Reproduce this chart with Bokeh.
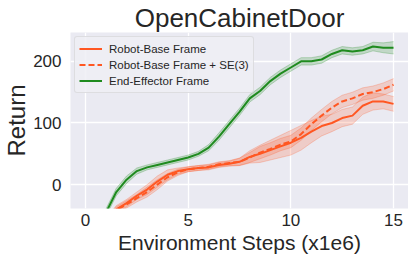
from bokeh.plotting import figure
from bokeh.embed import file_html
from bokeh.resources import INLINE
from bokeh.models import Range1d, FixedTicker, Legend, LegendItem

steps = [1.0, 1.5, 2.0, 2.5, 3.0, 3.5, 4.0, 4.5, 5.0, 5.5, 6.0, 6.5, 7.0, 7.5, 8.0,
         8.5, 9.0, 9.5, 10.0, 10.5, 11.0, 11.5, 12.0, 12.5, 13.0, 13.5, 14.0, 14.5, 15.0]

base = [-60, -40, -30, -18, -8, 5, 16, 22, 25, 27, 28, 32, 34, 37, 45,
        50, 56, 62, 68, 76, 86, 95, 100, 108, 112, 128, 135, 135, 131]
base_sd = [6, 6, 6, 6, 8, 9, 8, 5, 4, 4, 4, 4, 4, 6, 10,
           14, 16, 18, 20, 20, 18, 16, 14, 14, 14, 14, 14, 12, 12]

se3 = [-60, -42, -32, -22, -12, 0, 12, 20, 25, 27, 29, 33, 35, 37, 44,
       52, 58, 65, 70, 82, 98, 112, 125, 135, 140, 147, 150, 155, 162]
se3_sd = [6, 6, 6, 6, 8, 8, 6, 5, 4, 4, 4, 4, 4, 6, 8,
          10, 10, 10, 10, 10, 10, 10, 10, 10, 10, 10, 10, 10, 10]

ee = [-45, -12, 8, 22, 28, 32, 36, 40, 44, 50, 60, 78, 98, 118, 140,
      152, 168, 180, 190, 200, 200, 203, 212, 218, 216, 218, 224, 222, 222]
ee_sd = [6, 6, 6, 5, 4, 4, 4, 4, 4, 4, 5, 6, 6, 6, 6,
         6, 6, 6, 6, 6, 6, 6, 6, 6, 6, 6, 7, 8, 10]

x_ticks = [0, 5, 10, 15]
y_ticks = [0, 100, 200]

ORANGE = "#ff5722"
GREEN = "#1f8b1f"
BG = "#eaeaf2"

p = figure(frame_width=338, frame_height=176, output_backend="svg", toolbar_location=None,
           x_range=Range1d(-0.73, 15.73), y_range=Range1d(-38.7, 246.8),
           title="OpenCabinetDoor")
p.min_border_left = 0
p.min_border_right = 0
p.min_border_top = 0
p.min_border_bottom = 0
p.background_fill_color = BG
p.border_fill_color = "white"
p.outline_line_color = None

p.title.align = "center"
p.title.text_font = "Liberation Sans"
p.title.text_font_size = "26px"
p.title.text_font_style = "normal"
p.title.text_color = "#262626"
p.title.standoff = 0

for ax in (p.xaxis, p.yaxis):
    ax.axis_line_color = None
    ax.major_tick_line_color = None
    ax.minor_tick_line_color = None
    ax.major_tick_out = 0
    ax.major_tick_in = 0
    ax.minor_tick_out = 0
    ax.minor_tick_in = 0
    ax.major_label_text_font = "Liberation Sans"
    ax.major_label_text_font_size = "17px"
    ax.major_label_text_color = "#262626"
    ax.axis_label_text_font = "Liberation Sans"
    ax.axis_label_text_font_style = "normal"
    ax.axis_label_text_color = "#262626"

p.xaxis.ticker = FixedTicker(ticks=x_ticks)
p.yaxis.ticker = FixedTicker(ticks=y_ticks)
p.xaxis.axis_label = "Environment Steps (x1e6)"
p.yaxis.axis_label = "Return"
p.xaxis.axis_label_text_font_size = "21px"
p.yaxis.axis_label_text_font_size = "24px"
p.xaxis.major_label_standoff = 5
p.yaxis.major_label_standoff = 9
p.xaxis.axis_label_standoff = 2
p.yaxis.axis_label_standoff = 0

p.grid.grid_line_color = "white"
p.grid.grid_line_width = 1.3

def band(mean, sd, color):
    lo = [m - s for m, s in zip(mean, sd)]
    hi = [m + s for m, s in zip(mean, sd)]
    p.varea(x=steps, y1=lo, y2=hi, fill_color=color, fill_alpha=0.2)
    p.line(steps, lo, line_color=color, line_alpha=0.25, line_width=1)
    p.line(steps, hi, line_color=color, line_alpha=0.25, line_width=1)

band(base, base_sd, ORANGE)
band(se3, se3_sd, ORANGE)
band(ee, ee_sd, GREEN)

r1 = p.line(steps, base, line_color=ORANGE, line_width=2)
r2 = p.line(steps, se3, line_color=ORANGE, line_width=2, line_dash="6 3")
r3 = p.line(steps, ee, line_color=GREEN, line_width=2)

legend = Legend(items=[
    LegendItem(label="Robot-Base Frame", renderers=[r1]),
    LegendItem(label="Robot-Base Frame + SE(3)", renderers=[r2]),
    LegendItem(label="End-Effector Frame", renderers=[r3]),
], location="top_left")
legend.label_text_font = "Liberation Sans"
legend.label_text_font_size = "11.5px"
legend.label_text_color = "#262626"
legend.background_fill_color = "#eeeef4"
legend.background_fill_alpha = 0.85
legend.border_line_color = "#cccccc"
legend.border_line_width = 1
legend.border_radius = 3
legend.glyph_width = 23
legend.glyph_height = 15
legend.label_height = 15
legend.spacing = 1
legend.padding = 4
legend.margin = 4
legend.label_standoff = 7
p.add_layout(legend)

open("out.html", "w").write(file_html(p, INLINE))
